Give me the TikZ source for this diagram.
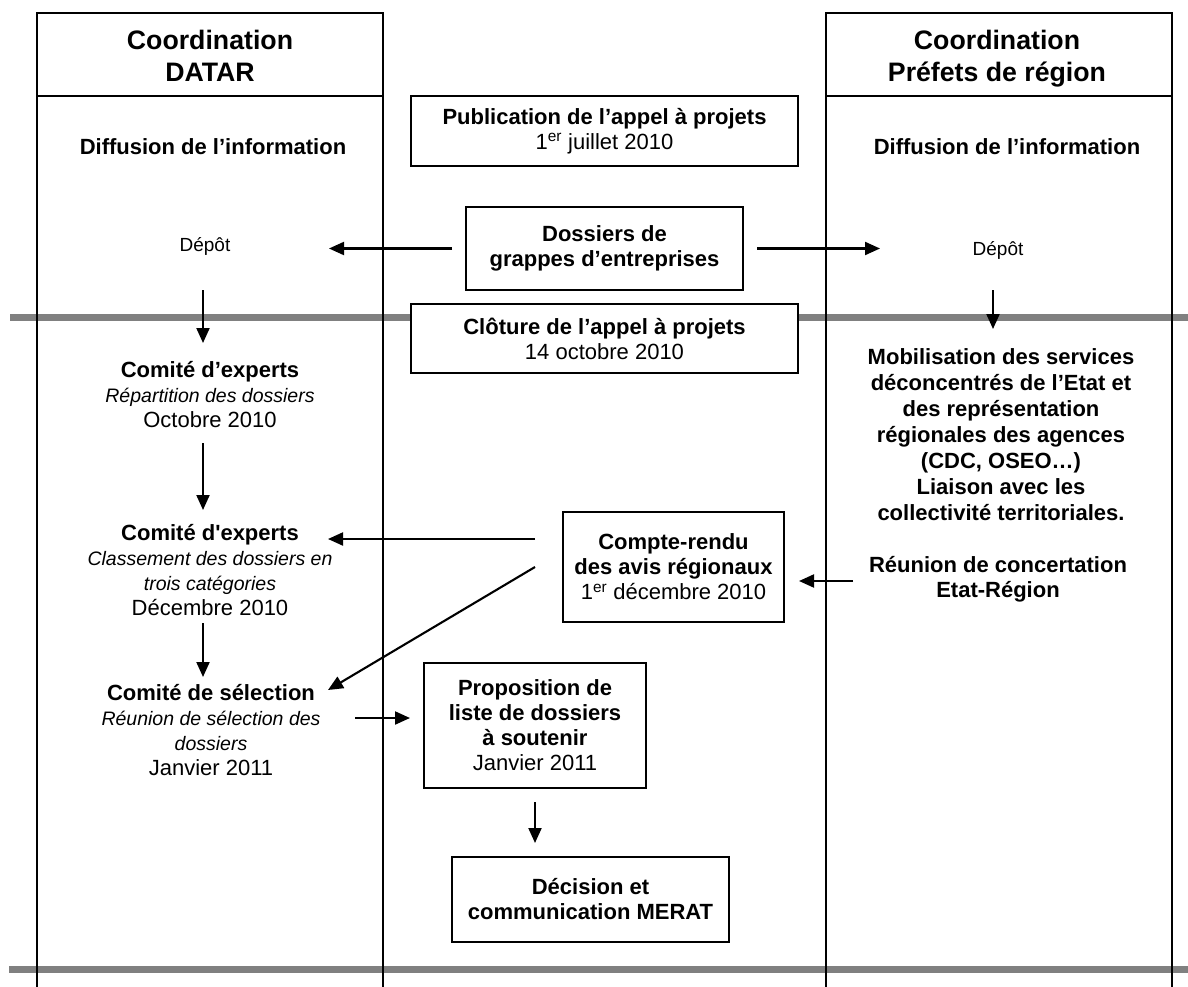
\documentclass[tikz,border=0pt]{standalone}
\usepackage{fontspec}
\setmainfont{Liberation Sans}
\usetikzlibrary{arrows.meta}
\definecolor{bandgray}{RGB}{128,128,128}
\newcommand\myB{\fontsize{22}{25}\selectfont\bfseries}
\newcommand\myBr{\fontsize{22}{26}\selectfont\bfseries}
\newcommand\myR{\fontsize{22}{25}\selectfont\mdseries\upshape}
\newcommand\myI{\fontsize{19.5}{25}\selectfont\mdseries\itshape}
\newcommand\myH{\fontsize{26.7}{32}\selectfont\bfseries}
\newcommand\myS{\fontsize{19}{23}\selectfont\mdseries}
\begin{document}
\begin{tikzpicture}[x=1pt,y=-1pt,
  arr/.style={-{Triangle[length=15pt,width=13pt]},line width=2.1pt},
  box/.style={draw,line width=2pt,fill=white,inner sep=0pt,align=center,font=\myB},
  txt/.style={inner sep=0pt,align=center},
  col/.style={line width=1.7pt},
  band/.style={line width=7pt,draw=bandgray}]
\useasboundingbox (0,0) rectangle (1188,987);
% grey bands
\draw[band] (10,317) -- (1188,317);
\draw[band] (9,969) -- (1188,969);
% columns
\draw[col] (37,987) -- (37,13) -- (383,13) -- (383,987);
\draw[col] (37,96) -- (383,96);
\draw[col] (826,987) -- (826,13) -- (1172,13) -- (1172,987);
\draw[col] (826,96) -- (1172,96);
% headers
\node[txt,font=\myH] (hdrL) at (210,56) {Coordination\\DATAR};
\node[txt,font=\myH] (hdrR) at (997,59) {Coordination\\Préfets de région};
\node[txt,font=\myB] (diffL) at (213,147) {Diffusion de l’information};
\node[txt,font=\myB] (diffR) at (1007,147) {Diffusion de l’information};
\node[txt,font=\myS] (depL) at (205,246) {Dépôt};
\node[txt,font=\myS] (depR) at (998,250) {Dépôt};
% left column
\node[txt,font=\myB] (ce1) at (210,395) {Comité d’experts\\{\myI Répartition des dossiers}\\{\myR Octobre 2010}};
\node[txt,font=\myB] (ce2) at (210,570) {Comité d\textquotesingle experts\\{\myI Classement des dossiers en}\\{\myI trois catégories}\\{\myR Décembre 2010}};
\node[txt,font=\myB] (cs) at (211,730) {Comité de sélection\\{\myI Réunion de sélection des}\\{\myI dossiers}\\{\myR Janvier 2011}};
% right column
\node[txt,font=\myBr] (mob) at (1001,435) {Mobilisation des services\\déconcentrés de l’Etat et\\des représentation\\régionales des agences\\(CDC, OSEO…)\\Liaison avec les\\collectivité territoriales.};
\node[txt,font=\myB] (reu) at (998,579) {Réunion de concertation\\Etat-Région};
% central boxes
\node[box,minimum width=387,minimum height=70] (pub) at (604.5,131) {Publication de l’appel à projets\\{\myR 1\textsuperscript{er} juillet 2010}};
\node[box,minimum width=277,minimum height=83] (dos) at (604.5,248.5) {Dossiers de\\grappes d’entreprises};
\node[box,minimum width=387,minimum height=69] (clo) at (604.5,338.5) {Clôture de l’appel à projets\\{\myR 14 octobre 2010}};
\node[box,minimum width=221,minimum height=110] (cr) at (673.5,567) {Compte-rendu\\des avis régionaux\\{\myR 1\textsuperscript{er} décembre 2010}};
\node[box,minimum width=222,minimum height=125] (prop) at (535,725.5) {Proposition de\\liste de dossiers\\à soutenir\\{\myR Janvier 2011}};
\node[box,minimum width=277,minimum height=85] (dec) at (590.5,899.5) {Décision et\\communication MERAT};
% connector end points
\coordinate (dosW) at (452,248.5);
\coordinate (dosE) at (757,248.5);
\coordinate (tipL) at (329,248.5);
\coordinate (tipR) at (880,248.5);
\coordinate (depLs) at (203,290);
\coordinate (ce1n) at (203,343);
\coordinate (depRs) at (993,290);
\coordinate (mobn) at (993,329);
\coordinate (ce1s) at (203,443);
\coordinate (ce2n) at (203,510);
\coordinate (ce2s) at (203,623);
\coordinate (csn) at (203,677);
\coordinate (crW1) at (535,539);
\coordinate (ce2e) at (328,539);
\coordinate (crW2) at (535,567);
\coordinate (cse) at (328,690);
\coordinate (reuW) at (853,581);
\coordinate (crE) at (799,581);
\coordinate (csE) at (355,718);
\coordinate (propW) at (410,718);
\coordinate (props) at (535,802);
\coordinate (decn) at (535,843);
% connectors
\draw[arr] (dosW) -- (tipL);
\draw[arr] (dosE) -- (tipR);
\draw[arr] (depLs) -- (ce1n);
\draw[arr] (depRs) -- (mobn);
\draw[arr] (ce1s) -- (ce2n);
\draw[arr] (ce2s) -- (csn);
\draw[arr] (crW1) -- (ce2e);
\draw[arr] (crW2) -- (cse);
\draw[arr] (reuW) -- (crE);
\draw[arr] (csE) -- (propW);
\draw[arr] (props) -- (decn);
\end{tikzpicture}
\end{document}
